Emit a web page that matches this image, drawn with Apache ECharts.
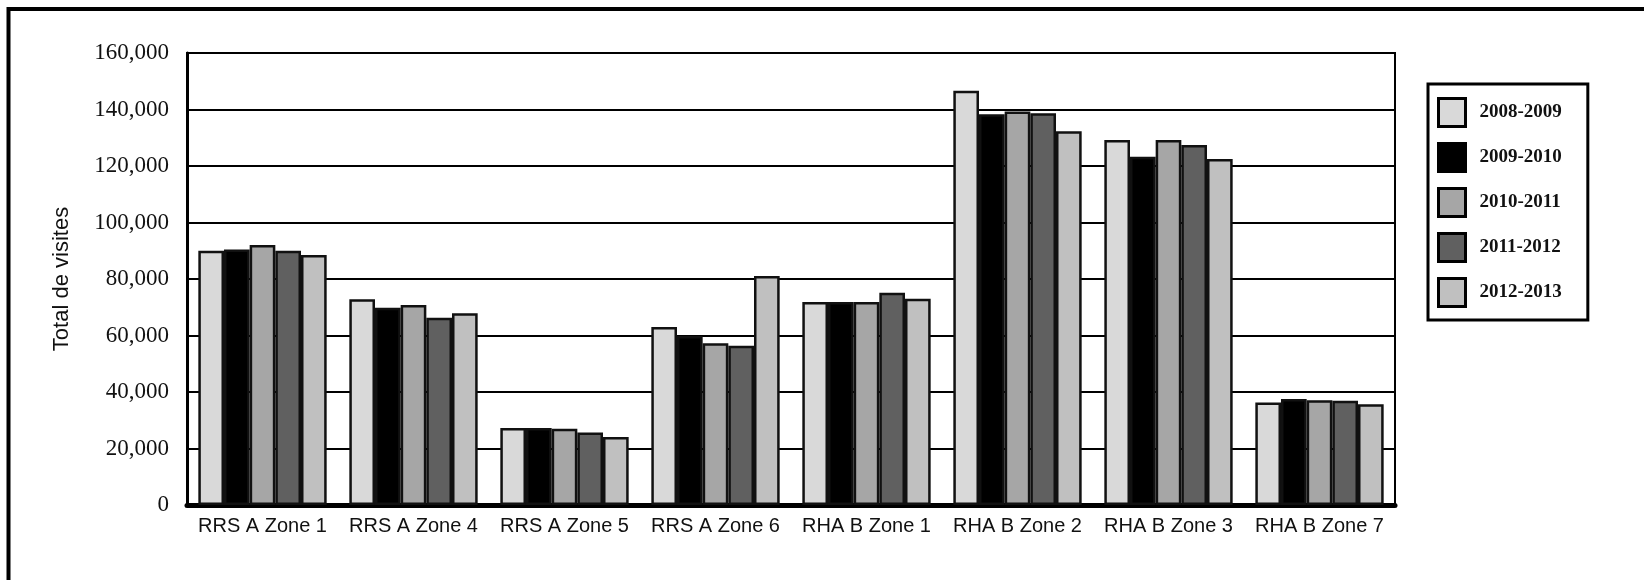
<!DOCTYPE html>
<html>
<head>
<meta charset="utf-8">
<script src="https://cdn.jsdelivr.net/npm/echarts@6/dist/echarts.min.js"></script>
<style>
html,body{margin:0;padding:0;background:#fff;}
#chart{width:1644px;height:580px;}
</style>
</head>
<body>
<div id="chart"></div>
<script>
const categories = ['RRS A Zone 1','RRS A Zone 4','RRS A Zone 5','RRS A Zone 6','RHA B Zone 1','RHA B Zone 2','RHA B Zone 3','RHA B Zone 7'];
const seriesNames = ['2008-2009','2009-2010','2010-2011','2011-2012','2012-2013'];
const v2008_2009 = [90000, 72800, 27300, 63000, 71900, 146600, 129200, 36300];
const v2009_2010 = [90400, 69800, 27300, 59800, 71900, 138300, 123300, 37500];
const v2010_2011 = [92000, 70800, 27000, 57300, 71900, 139300, 129200, 37100];
const v2011_2012 = [90000, 66300, 25700, 56400, 75100, 138700, 127400, 36900];
const v2012_2013 = [88500, 67900, 24100, 81100, 73000, 132300, 122500, 35700];
const yTicks = [0, 20000, 40000, 60000, 80000, 100000, 120000, 140000, 160000];
const yTitle = 'Total de visites';

const values = [v2008_2009, v2009_2010, v2010_2011, v2011_2012, v2012_2013];
const colors = ['#d9d9d9', '#000000', '#a6a6a6', '#606060', '#c0c0c0'];

const chart = echarts.init(document.getElementById('chart'), null, {renderer: 'canvas'});
const option = {
  animation: false,
  backgroundColor: '#ffffff',
  grid: {left: 187, right: 249, top: 53, bottom: 75, show: true, borderColor: '#000', borderWidth: 2, backgroundColor: 'transparent'},
  legend: {
    orient: 'vertical',
    left: 1428, top: 84,
    padding: [13, 26, 12, 9],
    itemWidth: 27, itemHeight: 28, itemGap: 14,
    borderColor: '#000', borderWidth: 3,
    icon: 'rect',
    data: seriesNames,
    itemStyle: {borderWidth: 3, borderColor: '#000'},
    textStyle: {fontFamily: 'Liberation Serif', fontWeight: 'bold', fontSize: 19, color: '#111', padding: [0, 0, 0, 9]}
  },
  xAxis: {
    type: 'category',
    data: categories,
    axisLine: {lineStyle: {color: '#000', width: 5, cap: 'round'}},
    axisTick: {show: false},
    axisLabel: {fontFamily: 'Liberation Sans', fontSize: 20, color: '#111', margin: 11, interval: 0}
  },
  yAxis: {
    type: 'value',
    min: 0, max: 160000, interval: 20000,
    name: yTitle,
    nameLocation: 'middle',
    nameGap: 114,
    nameTextStyle: {fontFamily: 'Liberation Sans', fontSize: 22, color: '#111'},
    axisLine: {show: true, lineStyle: {color: '#000', width: 3}},
    axisTick: {show: false},
    splitLine: {lineStyle: {color: '#000', width: 2}},
    axisLabel: {
      fontFamily: 'Liberation Serif', fontSize: 23, color: '#111', margin: 18,
      formatter: v => yTicks.indexOf(v) >= 0 ? v.toLocaleString('en-US') : ''
    }
  },
  graphic: [{
    type: 'rect', silent: true, z: 100,
    shape: {x: 8.5, y: 9, width: 2000, height: 1000},
    style: {fill: 'none', stroke: '#000', lineWidth: 4}
  }],
  series: seriesNames.map((n, i) => ({
    name: n,
    type: 'bar',
    data: values[i],
    barGap: '0%',
    barCategoryGap: '15%',
    itemStyle: {color: colors[i], borderColor: '#111', borderWidth: 2.5}
  }))
};
chart.setOption(option);
</script>
</body>
</html>
